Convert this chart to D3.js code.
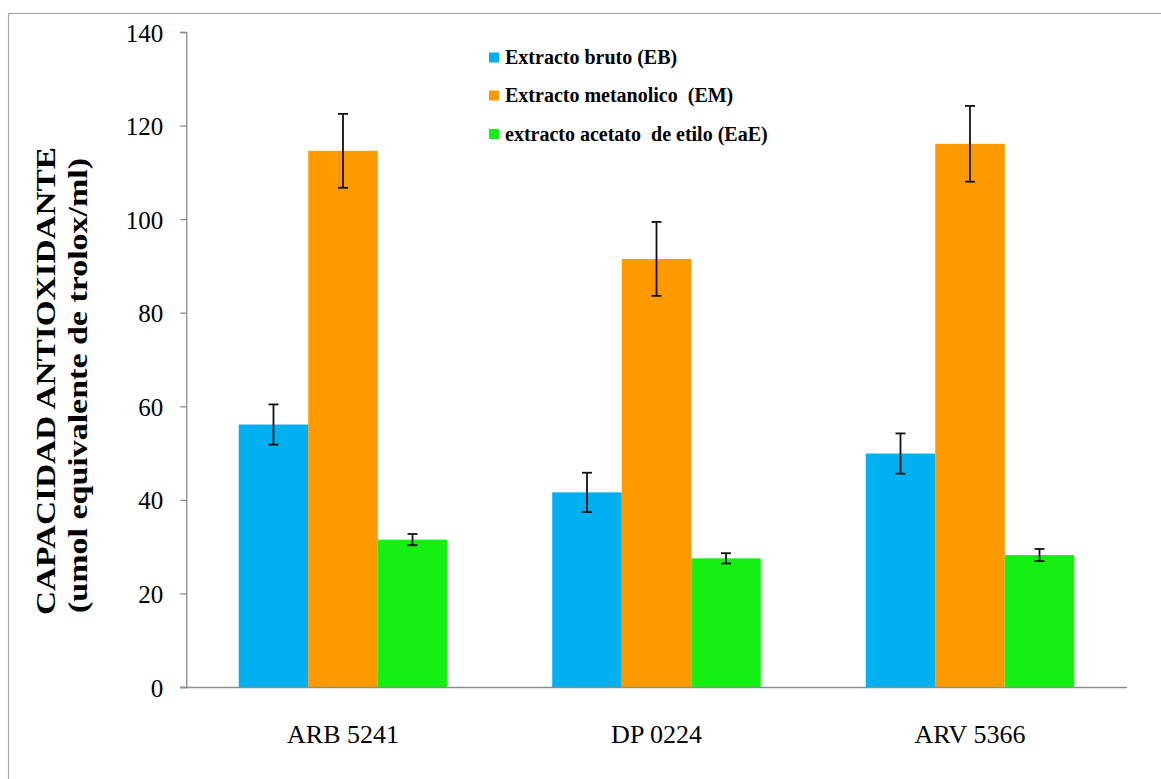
<!DOCTYPE html>
<html>
<head>
<meta charset="utf-8">
<script src="https://cdn.jsdelivr.net/npm/d3@7"></script>
<style>
  html, body { margin: 0; padding: 0; background: #fff; }
  svg { display: block; }
</style>
</head>
<body>
<svg id="chart" width="1161" height="779"></svg>
<script>
// ---- data ----
const categories = ["ARB 5241", "DP 0224", "ARV 5366"];
const seriesNames = ["Extracto bruto (EB)", "Extracto metanolico  (EM)", "extracto acetato  de etilo (EaE)"];
const ebValues  = [56.1, 41.6, 49.9];
const emValues  = [114.6, 91.5, 116.1];
const eaeValues = [31.5, 27.5, 28.2];
const ebErrors  = [4.3, 4.2, 4.3];
const emErrors  = [7.9, 7.9, 8.1];
const eaeErrors = [1.2, 1.1, 1.3];
const yTicks = [0, 20, 40, 60, 80, 100, 120, 140];
const colors = ["#00B0F0", "#FF9900", "#14F012"];

const seriesValues = [ebValues, emValues, eaeValues];
const seriesErrors = [ebErrors, emErrors, eaeErrors];

const svg = d3.select("#chart");

// outer frame
svg.append("rect")
  .attr("x", 8.5).attr("y", 13.5)
  .attr("width", 1300).attr("height", 900)
  .attr("fill", "none").attr("stroke", "#a6a6a6").attr("stroke-width", 1.2);

const y = d3.scaleLinear().domain([0, 140]).range([687, 32]);
const x0 = d3.scaleBand().domain(categories).range([186.25, 1126.75]).padding(0);
const x1 = d3.scaleBand().domain(d3.range(seriesNames.length))
  .range([0, x0.bandwidth()]).paddingInner(0).paddingOuter(0.755);

// bars
const data = [];
categories.forEach((c, ci) => {
  seriesNames.forEach((s, si) => {
    data.push({ cat: c, si: si, v: seriesValues[si][ci], e: seriesErrors[si][ci] });
  });
});

svg.append("g").selectAll("rect").data(data).join("rect")
  .attr("x", d => x0(d.cat) + x1(d.si))
  .attr("y", d => y(d.v))
  .attr("width", x1.bandwidth())
  .attr("height", d => y(0) - y(d.v))
  .attr("fill", d => colors[d.si]);

// y axis
const yAxis = d3.axisLeft(y).tickValues(yTicks).tickSize(6).tickPadding(17).tickFormat(d3.format("d"));
const gy = svg.append("g").attr("transform", "translate(186.25,0)").call(yAxis);
gy.select(".domain").attr("stroke", "#8c8c8c").attr("stroke-width", 1.3);
gy.selectAll(".tick line").attr("stroke", "#8c8c8c").attr("stroke-width", 1.3);
gy.selectAll(".tick text")
  .attr("font-family", "'Liberation Serif', 'Times New Roman', serif")
  .attr("font-size", 25).attr("fill", "#000").attr("dy", "0.36em");

// x axis line
const xAxis = d3.axisBottom(x0).tickSize(0).tickPadding(38);
const gx = svg.append("g").attr("transform", "translate(0,687)").call(xAxis);
gx.select(".domain").attr("stroke", "#8c8c8c").attr("stroke-width", 1.3)
  .attr("d", "M180,0.5H1127");
gx.selectAll(".tick text")
  .attr("font-family", "'Liberation Serif', 'Times New Roman', serif")
  .attr("font-size", 26).attr("fill", "#000");

// error bars
const eg = svg.append("g").attr("stroke", "#111").attr("stroke-width", 1.8);
data.forEach(d => {
  const cx = x0(d.cat) + x1(d.si) + x1.bandwidth() / 2;
  const yt = y(d.v + d.e), yb = y(d.v - d.e);
  eg.append("line").attr("x1", cx).attr("x2", cx).attr("y1", yt).attr("y2", yb);
  eg.append("line").attr("x1", cx - 5).attr("x2", cx + 5).attr("y1", yt).attr("y2", yt);
  eg.append("line").attr("x1", cx - 5).attr("x2", cx + 5).attr("y1", yb).attr("y2", yb);
});

// legend
const legendRows = [57.5, 95.5, 134];
const lg = svg.append("g");
seriesNames.forEach((s, i) => {
  lg.append("rect").attr("x", 489).attr("y", legendRows[i] - 5)
    .attr("width", 10).attr("height", 10).attr("fill", colors[i]);
  lg.append("text").attr("x", 505).attr("y", legendRows[i] + 6.5)
    .attr("font-family", "'Liberation Serif', 'Times New Roman', serif")
    .attr("font-weight", "bold").attr("font-size", 20)
    .attr("xml:space", "preserve")
    .style("white-space", "pre")
    .attr("fill", "#000").text(s);
});

// y axis title
const yTitle1 = "CAPACIDAD ANTIOXIDANTE";
const yTitle2 = "(umol equivalente de trolox/ml)";
svg.append("text")
  .attr("transform", "translate(55,381) rotate(-90)")
  .attr("text-anchor", "middle")
  .attr("font-family", "'Liberation Serif', 'Times New Roman', serif")
  .attr("font-weight", "bold").attr("font-size", 28)
  .attr("textLength", 468).attr("lengthAdjust", "spacingAndGlyphs")
  .attr("fill", "#000").text(yTitle1);
svg.append("text")
  .attr("transform", "translate(87,385.5) rotate(-90)")
  .attr("text-anchor", "middle")
  .attr("font-family", "'Liberation Serif', 'Times New Roman', serif")
  .attr("font-weight", "bold").attr("font-size", 27)
  .attr("textLength", 455).attr("lengthAdjust", "spacingAndGlyphs")
  .attr("fill", "#000").text(yTitle2);
</script>
</body>
</html>
